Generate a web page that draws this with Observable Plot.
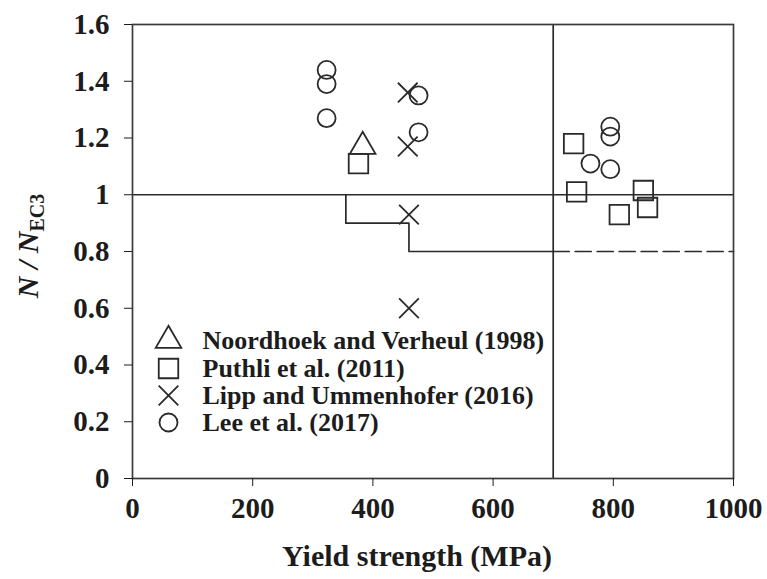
<!DOCTYPE html>
<html><head><meta charset="utf-8">
<script src="https://cdn.jsdelivr.net/npm/d3@7"></script>
<script src="https://cdn.jsdelivr.net/npm/@observablehq/plot@0.6"></script>
<style>body{margin:0;background:#fff}</style>
</head><body><div id="chart"></div>
<script>
// ---- data ----
const seriesNames = ["Noordhoek and Verheul (1998)", "Puthli et al. (2011)", "Lipp and Ummenhofer (2016)", "Lee et al. (2017)"];
const seriesSymbols = ["triangle", "square", "times", "circle"];
const noordhoekX = [383];
const noordhoekY = [1.17];
const puthliX = [376, 734, 739, 810, 850, 857];
const puthliY = [1.11, 1.18, 1.01, 0.93, 1.015, 0.955];
const lippX = [458, 458, 460, 460];
const lippY = [1.36, 1.17, 0.93, 0.60];
const leeX = [323, 323, 323, 476, 476, 795, 795, 762, 795];
const leeY = [1.44, 1.39, 1.27, 1.35, 1.22, 1.24, 1.205, 1.11, 1.09];
const limitX = [355, 355, 460, 460, 700];
const limitY = [1, 0.9, 0.9, 0.8, 0.8];
const dashX = [700, 1000];
const dashY = [0.8, 0.8];
const refY = [1];
const refX = [700];
const xTicks = [0, 200, 400, 600, 800, 1000];
const yTicks = [0, 0.2, 0.4, 0.6, 0.8, 1, 1.2, 1.4, 1.6];
const xTitle = "Yield strength (MPa)";

const pts = (xs, ys) => xs.map((x, i) => ({x, y: ys[i]}));
const ink = "#1c1c1c";
const lineInk = "#2a2a2a";
const symR = {triangle: 9.5, square: 11, times: 9, circle: 9};
const dotOpts = (sym) => ({x: "x", y: "y", symbol: sym, r: symR[sym], stroke: lineInk, strokeWidth: 1.8, fill: "none"});

const legendRows = [-138, -110, -83, -56];
const legendMarks = [];
seriesNames.forEach((name, i) => {
  legendMarks.push(Plot.dot([name], {frameAnchor: "bottom-left", dx: 36, dy: legendRows[i], symbol: seriesSymbols[i], r: symR[seriesSymbols[i]], stroke: lineInk, strokeWidth: 1.8, fill: "none"}));
  legendMarks.push(Plot.text([name], {frameAnchor: "bottom-left", dx: 70, dy: legendRows[i], text: d => d, textAnchor: "start", lineAnchor: "middle", fontSize: 26, fill: ink}));
});

const plot = Plot.plot({
  width: 767, height: 579,
  marginLeft: 132, marginRight: 34, marginTop: 24, marginBottom: 101,
  x: {domain: [0, 1000]},
  y: {domain: [0, 1.6]},
  style: {fontFamily: "'Liberation Serif', 'Times New Roman', serif", fontWeight: "bold", color: ink, background: "#fff"},
  marks: [
    Plot.ruleY(refY, {stroke: lineInk, strokeWidth: 1.7}),
    Plot.ruleX(refX, {stroke: lineInk, strokeWidth: 1.7}),
    Plot.line(pts(limitX, limitY), {x: "x", y: "y", stroke: lineInk, strokeWidth: 1.7}),
    Plot.line(pts(dashX, dashY), {x: "x", y: "y", stroke: lineInk, strokeWidth: 1.7, strokeDasharray: "16,6"}),
    Plot.frame({stroke: "#3a3a3a", strokeWidth: 1.7}),
    Plot.axisX({ticks: xTicks, tickSize: 8, tickPadding: 11, fontSize: 29, label: null, tickFormat: d => String(d)}),
    Plot.axisY({ticks: yTicks, tickSize: 8, tickPadding: 15, fontSize: 29, label: null, tickFormat: d => String(Math.round(d * 10) / 10)}),
    Plot.dot(pts(noordhoekX, noordhoekY), dotOpts("triangle")),
    Plot.dot(pts(puthliX, puthliY), dotOpts("square")),
    Plot.dot(pts(lippX, lippY), dotOpts("times")),
    Plot.dot(pts(leeX, leeY), dotOpts("circle")),
    ...legendMarks,
    Plot.text([xTitle], {frameAnchor: "bottom", dx: -16, dy: 78, text: d => d, lineAnchor: "middle", fontSize: 30, fill: ink})
  ]
});

// y-axis title with italic N and subscript EC3
const svg = d3.select(plot);
const yl = svg.append("text")
  .attr("transform", "translate(38,246) rotate(-90)")
  .attr("text-anchor", "middle")
  .attr("fill", ink)
  .style("font-family", "'Liberation Serif', 'Times New Roman', serif")
  .style("font-weight", "bold")
  .style("font-size", "30px");
yl.append("tspan").style("font-style", "italic").text("N / N");
yl.append("tspan").attr("dy", "0.3em").style("font-size", "20px").text("EC3");

document.getElementById("chart").appendChild(plot);
</script>
</body></html>
